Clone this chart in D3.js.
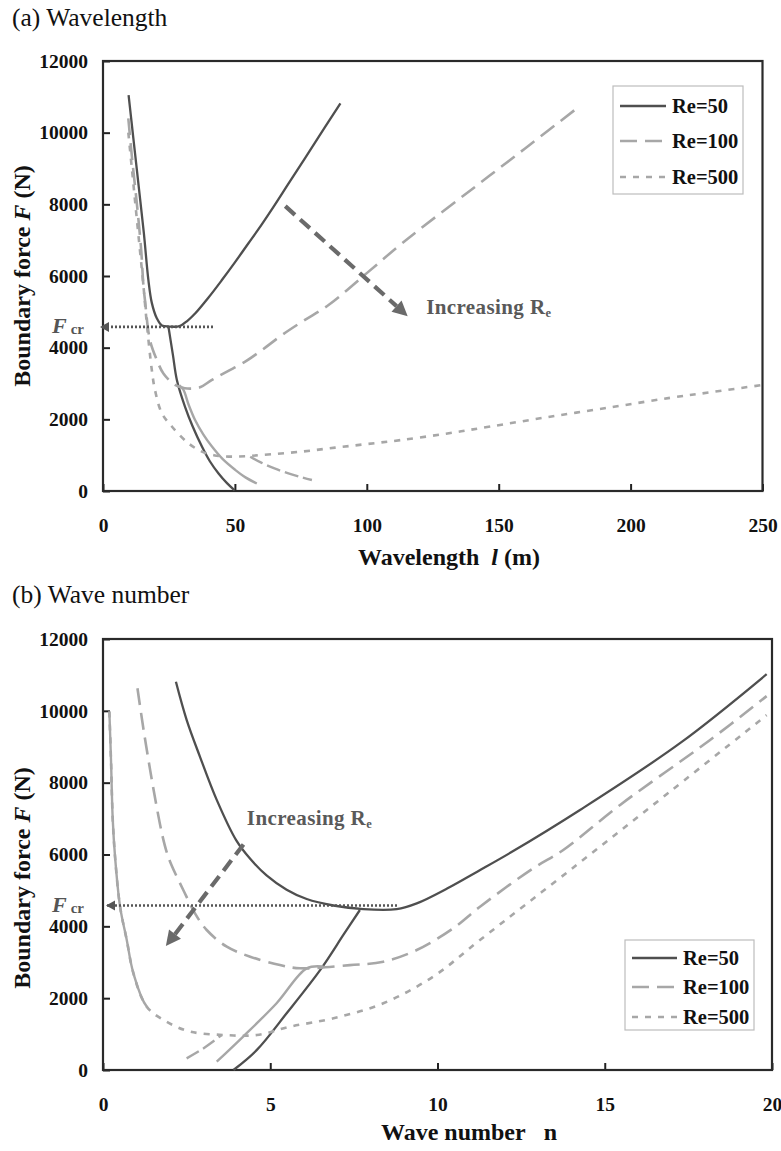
<!DOCTYPE html>
<html><head><meta charset="utf-8">
<script src="https://cdn.jsdelivr.net/npm/d3@7"></script>
<style>
body{margin:0;background:#fff}
text{font-family:"Liberation Serif","Times New Roman",serif}
</style>
</head><body>
<svg id="c" width="781" height="1151"></svg>
<script>
// ================= DATA =================
// (a) Wavelength l (m) vs boundary force F (N)
const wlRe50Upper = [[9.7,11050],[11.5,9850],[13.5,8520],[15.5,7190],[17.2,5890],[18.5,5250],[20.4,4820],[22.3,4620],[25,4590],[29,4600],[32,4750],[35,4960],[40,5400],[45,5880],[50,6380],[55,6900],[60,7420],[65,7970],[70,8540],[80,9680],[90,10820]];
const wlRe50Lower = [[24.8,4590],[26.5,3800],[28,3100],[31.1,2350],[34,1800],[37.5,1240],[40.5,830],[43.8,490],[47,220],[49.9,20]];
const wlRe100Upper = [[9.6,10400],[11,9300],[13,7900],[14.5,6700],[15.3,5750],[15.9,5330],[17.8,4210],[20.4,3660],[22.9,3280],[27.3,2960],[31,2870],[34,2860],[37,2900],[41.3,3100],[47,3330],[53.9,3610],[60,3920],[67.8,4350],[76,4750],[85.5,5190],[100,6080],[111.5,6800],[120,7300],[140,8430],[160,9560],[180,10700]];
const wlRe100Lower = [[29,2950],[30.5,2820],[32.5,2400],[34.9,1980],[38,1580],[41.3,1240],[45.5,880],[50.1,590],[54,380],[58.3,210]];
const wlRe500Upper = [[9.6,10000],[11,8960],[13,7460],[15.3,5750],[16.6,4680],[18.5,3380],[19.7,2820],[22.3,2170],[26.1,1800],[32.4,1330],[37.5,1100],[42,1000],[47.6,960],[54,970],[60.2,1005],[75.4,1100],[88,1210],[100,1310],[112.8,1420],[130,1600],[146.9,1800],[170,2080],[193.7,2350],[215,2600],[231.7,2770],[250,2960]];
const wlRe500Lower = [[55.8,957],[60,790],[65,630],[70,500],[75,390],[79.2,307]];

// (b) Wave number n vs boundary force F (N)
const wnRe50Upper = [[2.18,10810],[2.5,9750],[2.9,8720],[3.4,7520],[3.98,6400],[4.4,5880],[4.89,5420],[5.49,5020],[6.09,4760],[6.89,4580],[7.78,4480],[8.78,4480],[9.38,4640],[10.3,5060],[11.2,5530],[12.2,6060],[14.26,7240],[17.25,9100],[19.84,11020]];
const wnRe50Lower = [[3.9,0],[4.6,560],[5.49,1580],[6.49,2780],[7.2,3780],[7.68,4455]];
const wnRe100Upper = [[1.03,10630],[1.2,9550],[1.41,8350],[1.6,7350],[1.77,6550],[1.9,6080],[2.05,5700],[2.4,5012],[2.75,4362],[3.1,3898],[3.7,3433],[4.4,3155],[5.29,2923],[5.89,2831],[7.38,2920],[8.38,3015],[9.38,3340],[10.47,3945],[11.27,4547],[12.86,5615],[13.76,6125],[15.46,7380],[18.15,9190],[19.84,10410]];
const wnRe100Lower = [[3.4,230],[4.19,930],[5.19,1860],[6.09,2830],[6.59,2880]];
const wnRe500Upper = [[0.19,9980],[0.24,8600],[0.29,7000],[0.36,5940],[0.51,4550],[0.71,3620],[0.91,2690],[1.31,1760],[1.9,1345],[2.6,1070],[3.6,975],[4.6,975],[5.59,1206],[6.89,1440],[8.38,1857],[9.87,2600],[11.27,3620],[14.16,5710],[16.95,7750],[19.84,9880]];
const wnRe500Lower = [[2.5,325],[3.0,600],[3.55,975]];

const seriesNames = ["Re=50","Re=100","Re=500"];
const xTicksA = [0,50,100,150,200,250];
const xTicksB = [0,5,10,15,20];
const yTicks = [0,2000,4000,6000,8000,10000,12000];
const FCR = 4580;

// ================= DRAWING =================
const svg = d3.select("#c");
const DARK = "#4f4f4f", LIGHT = "#a7a7a7", ARROW = "#6a6a6a";
const NB = "\u00A0";

const styles = {
  upper: [
    {stroke:DARK, w:2.3, dash:null},
    {stroke:LIGHT, w:2.6, dash:"17,8"},
    {stroke:LIGHT, w:2.6, dash:"6,7"}
  ],
  lower: [
    {stroke:DARK, w:2.3, dash:null},
    {stroke:LIGHT, w:2.4, dash:null},
    {stroke:LIGHT, w:2.4, dash:"14,5"}
  ]
};

function panel(cfg, id){
  const x = d3.scaleLinear().domain(cfg.xDomain).range([cfg.left, cfg.right]);
  const y = d3.scaleLinear().domain([0,12000]).range([cfg.bottom, cfg.top]);
  const g = svg.append("g");

  // title
  g.append("text").attr("x",12).attr("y",cfg.titleY).attr("font-size",25.5)
    .attr("fill","#111").text(cfg.title);

  // axes
  const ax = g.append("g").attr("transform",`translate(0,${cfg.bottom})`)
    .call(d3.axisBottom(x).tickValues(cfg.xTicks).tickSize(-7).tickPadding(27).tickFormat(d3.format("d")));
  const ay = g.append("g").attr("transform",`translate(${cfg.left},0)`)
    .call(d3.axisLeft(y).tickValues(yTicks).tickSize(-7).tickPadding(15).tickFormat(d3.format("d")));
  [ax,ay].forEach(a=>{
    a.select(".domain").remove();
    a.selectAll(".tick line").attr("stroke","#222").attr("stroke-width",2);
    a.selectAll(".tick text").attr("font-size",19.5).attr("font-weight","bold").attr("fill","#111")
      .attr("font-family","Liberation Serif");
  });

  // frame
  g.append("rect").attr("x",cfg.left).attr("y",cfg.top)
    .attr("width",cfg.right-cfg.left).attr("height",cfg.bottom-cfg.top)
    .attr("fill","none").attr("stroke","#2a2a2a").attr("stroke-width",2.2);

  // curves
  const line = d3.line().x(d=>x(d[0])).y(d=>y(d[1])).curve(d3.curveCatmullRom.alpha(0.5));
  cfg.lower.forEach((data,i)=>{
    const s = styles.lower[i];
    g.append("path").datum(data).attr("d",line).attr("fill","none")
      .attr("stroke",s.stroke).attr("stroke-width",s.w).attr("stroke-dasharray",s.dash);
  });
  cfg.upper.forEach((data,i)=>{
    const s = styles.upper[i];
    g.append("path").datum(data).attr("d",line).attr("fill","none")
      .attr("stroke",s.stroke).attr("stroke-width",s.w).attr("stroke-dasharray",s.dash);
  });
  // steep part of the Re=500 curve rendered as a continuous stroke (dense points)
  if (cfg.solidSteep){
    const cid = "clip"+id;
    svg.append("defs").append("clipPath").attr("id",cid).append("rect")
      .attr("x",cfg.left).attr("y",cfg.top).attr("width",x(cfg.solidSteep)-cfg.left).attr("height",cfg.bottom-cfg.top);
    g.append("path").datum(cfg.upper[2]).attr("d",line).attr("fill","none")
      .attr("stroke",LIGHT).attr("stroke-width",2.4).attr("clip-path",`url(#${cid})`);
  }

  // Fcr dotted line with arrow
  const fy = y(FCR);
  g.append("line").attr("x1",x(0)+4).attr("x2",x(cfg.fcrEnd)).attr("y1",fy).attr("y2",fy)
    .attr("stroke","#555").attr("stroke-width",2.6).attr("stroke-dasharray","2,2");
  const tipX = x(0) + cfg.fcrTipOff;
  g.append("path").attr("d",`M${tipX},${fy} L${tipX+9},${fy-5} L${tipX+9},${fy+5} Z`).attr("fill","#555");
  const fl = g.append("text").attr("x",52).attr("y",fy+6).attr("fill","#555");
  fl.append("tspan").attr("font-size",22).attr("font-style","italic").attr("font-weight","bold").text("F");
  fl.append("tspan").attr("font-size",15).attr("font-weight","bold").attr("dx",4).attr("dy",1).text("cr");

  // "Increasing Re" arrow
  const [a0,a1] = cfg.arrow;
  const x0=x(a0[0]), y0=y(a0[1]), x1=x(a1[0]), y1=y(a1[1]);
  const ang = Math.atan2(y1-y0, x1-x0);
  const hl = 15, hw = 7.5;
  const bx = x1 - hl*Math.cos(ang), by = y1 - hl*Math.sin(ang);
  g.append("line").attr("x1",x0).attr("y1",y0).attr("x2",bx).attr("y2",by)
    .attr("stroke",ARROW).attr("stroke-width",4.2).attr("stroke-dasharray","13,7");
  g.append("path").attr("d",`M${x1},${y1} L${bx - hw*Math.sin(ang)},${by + hw*Math.cos(ang)} L${bx + hw*Math.sin(ang)},${by - hw*Math.cos(ang)} Z`)
    .attr("fill",ARROW);
  const it = g.append("text").attr("x",x(cfg.incLabel[0])).attr("y",y(cfg.incLabel[1]))
    .attr("font-size",21).attr("font-weight","bold").attr("fill","#595959").attr("letter-spacing",0.4);
  it.append("tspan").text("Increasing R");
  it.append("tspan").attr("font-size",12.5).attr("dy",3).text("e");

  // axis labels
  const xl = g.append("text").attr("x",cfg.xLabelX).attr("y",cfg.xLabelY).attr("text-anchor","middle")
    .attr("font-size",24).attr("font-weight","bold").attr("fill","#111");
  cfg.xLabel(xl);
  const yl = g.append("text").attr("transform",`translate(30,${cfg.yLabelC}) rotate(-90)`)
    .attr("text-anchor","middle").attr("font-size",24).attr("font-weight","bold").attr("fill","#111");
  yl.append("tspan").text("Boundary force" + NB);
  yl.append("tspan").attr("font-style","italic").text("F");
  yl.append("tspan").text(NB + "(N)");

  // legend
  const L = cfg.legend;
  g.append("rect").attr("x",L.x).attr("y",L.y).attr("width",L.w).attr("height",L.h)
    .attr("fill","#fff").attr("stroke","#bdbdbd").attr("stroke-width",1.2);
  seriesNames.forEach((name,i)=>{
    const s = styles.upper[i];
    const cy = L.y + L.rows[i];
    g.append("line").attr("x1",L.x+7).attr("x2",L.x+7+L.len).attr("y1",cy).attr("y2",cy)
      .attr("stroke",s.stroke).attr("stroke-width",s.w).attr("stroke-dasharray",s.dash);
    g.append("text").attr("x",L.x+L.len+13).attr("y",cy+7).attr("font-size",20.5)
      .attr("font-weight","bold").attr("fill","#111").text(name);
  });
}

panel({
  title:"(a) Wavelength", titleY:26,
  xDomain:[0,250], xTicks:xTicksA,
  left:103, right:762.5, top:61, bottom:491,
  upper:[wlRe50Upper, wlRe100Upper, wlRe500Upper],
  lower:[wlRe50Lower, wlRe100Lower, wlRe500Lower],
  fcrEnd:42, fcrTipOff:-3,
  arrow:[[69.1,7950],[115.5,4880]], incLabel:[122.5,4940],
  xLabelX:449, xLabelY:565,
  xLabel:t=>{t.append("tspan").text("Wavelength"+NB+NB);t.append("tspan").attr("font-style","italic").text("l");t.append("tspan").text(NB+"(m)");},
  yLabelC:276,
  legend:{x:613, y:86, w:130, h:108, len:46, rows:[20,55,91]}
}, "a");

panel({
  title:"(b) Wave number", titleY:603,
  xDomain:[0,20], xTicks:xTicksB,
  left:103, right:772, top:639, bottom:1070,
  upper:[wnRe50Upper, wnRe100Upper, wnRe500Upper],
  lower:[wnRe50Lower, wnRe100Lower, wnRe500Lower],
  solidSteep:1.35,
  fcrEnd:8.8, fcrTipOff:3,
  arrow:[[4.2,6280],[1.88,3450]], incLabel:[4.3,6820],
  xLabelX:469, xLabelY:1140,
  xLabel:t=>{t.append("tspan").text("Wave number"+NB+NB+NB+"n");},
  yLabelC:878,
  legend:{x:625, y:940, w:129, h:90, len:45, rows:[18,47,77]}
}, "b");
</script>
</body></html>
